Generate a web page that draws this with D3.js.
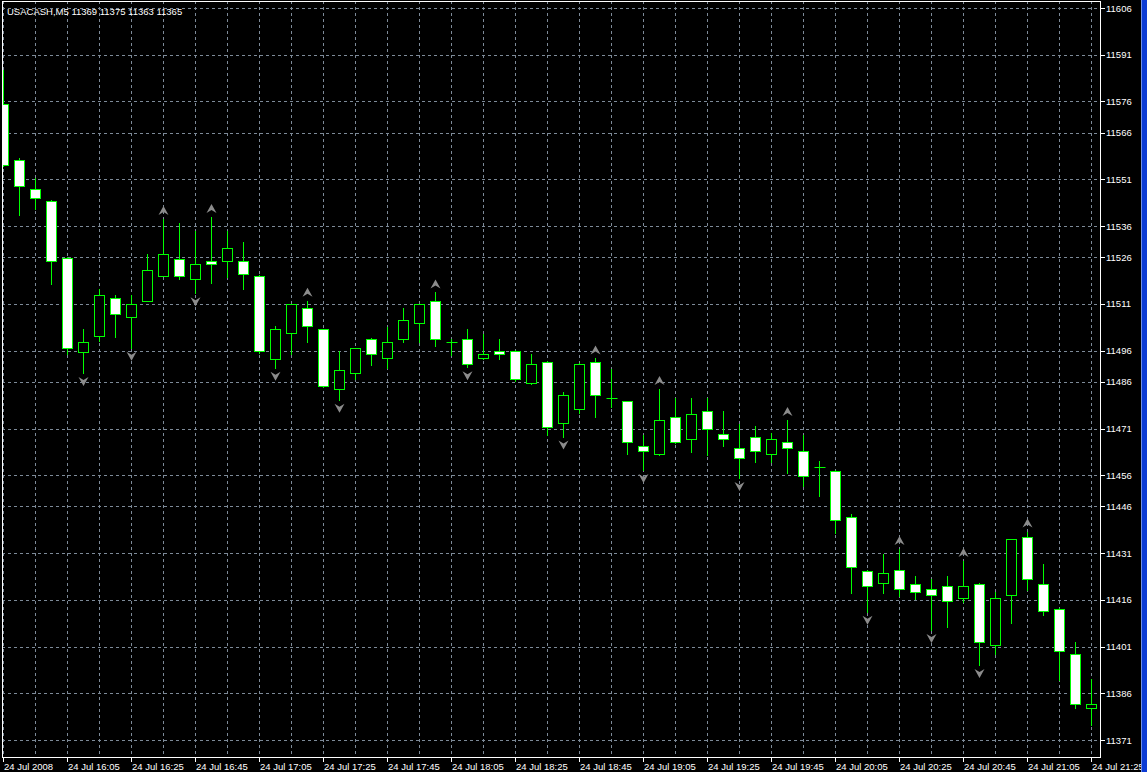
<!DOCTYPE html>
<html>
<head>
<meta charset="utf-8">
<script src="https://cdn.jsdelivr.net/npm/d3@7"></script>
<style>
  html, body { margin: 0; padding: 0; background: #000; }
  svg { display: block; }
  text { font-family: "Liberation Sans", Arial, sans-serif; fill: #fff; }
</style>
</head>
<body>
<div id="chart"></div>
<script>
// USACASH M5 bars, 24 Jul 2008 15:45 .. 21:25
var open = [11575.2, 11557.2, 11547.9, 11544.0, 11525.7, 11495.7, 11500.7, 11512.9, 11506.8, 11511.9,
  11520.0, 11525.5, 11519.0, 11524.8, 11524.8, 11524.7, 11520.0, 11493.4, 11501.7, 11509.6,
  11502.9, 11483.6, 11488.7, 11499.6, 11493.5, 11499.6, 11504.8, 11511.8, 11498.8, 11499.6,
  11493.5, 11495.8, 11495.8, 11485.5, 11492.5, 11472.7, 11477.4, 11492.5, 11480.7, 11479.7,
  11465.5, 11462.7, 11474.6, 11467.5, 11476.5, 11469.3, 11464.7, 11468.4, 11462.7, 11466.6,
  11463.7, 11458.7, 11457.5, 11442.5, 11425.4, 11421.3, 11425.5, 11421.2, 11419.4, 11420.3,
  11416.5, 11421.2, 11401.4, 11417.5, 11436.3, 11421.2, 11413.2, 11398.5, 11381.3];
var high = [11586.1, 11557.8, 11551.4, 11544.5, 11526.0, 11503.0, 11515.8, 11513.9, 11513.9, 11527.0,
  11538.3, 11537.1, 11534.4, 11538.9, 11534.4, 11531.0, 11520.3, 11504.0, 11511.0, 11512.0,
  11503.0, 11495.9, 11497.0, 11500.0, 11503.5, 11509.6, 11511.0, 11514.7, 11499.7, 11503.0,
  11501.3, 11499.7, 11496.2, 11494.9, 11492.7, 11482.7, 11492.0, 11493.5, 11490.0, 11479.8,
  11468.8, 11483.7, 11480.7, 11480.7, 11480.7, 11476.6, 11472.5, 11471.8, 11469.5, 11473.7,
  11468.9, 11460.6, 11457.7, 11443.6, 11425.5, 11430.6, 11432.3, 11423.7, 11422.6, 11423.7,
  11428.5, 11421.4, 11418.6, 11435.5, 11437.9, 11427.5, 11413.5, 11402.4, 11390.5];
var low = [11555.4, 11539.5, 11541.5, 11517.4, 11495.0, 11488.8, 11499.1, 11500.4, 11496.9, 11511.8,
  11520.0, 11519.0, 11514.4, 11517.7, 11519.7, 11515.7, 11495.2, 11490.5, 11494.9, 11498.7,
  11484.4, 11480.2, 11486.8, 11491.4, 11490.3, 11498.7, 11498.7, 11497.6, 11494.6, 11490.7,
  11493.2, 11493.4, 11486.3, 11485.4, 11469.0, 11468.4, 11475.9, 11474.6, 11477.8, 11462.7,
  11457.7, 11462.5, 11466.5, 11463.6, 11462.4, 11465.5, 11455.1, 11460.4, 11460.4, 11456.6,
  11452.5, 11449.4, 11437.4, 11418.3, 11412.2, 11418.3, 11417.3, 11416.4, 11406.3, 11407.4,
  11415.4, 11395.1, 11398.6, 11408.5, 11419.2, 11411.1, 11390.3, 11381.2, 11375.8];
var close = [11555.6, 11548.9, 11545.0, 11524.8, 11496.9, 11498.7, 11513.9, 11507.8, 11511.0, 11521.9,
  11527.0, 11520.0, 11523.8, 11523.8, 11528.9, 11520.7, 11495.9, 11502.9, 11510.9, 11503.8,
  11484.6, 11489.8, 11496.8, 11494.8, 11498.7, 11505.7, 11510.9, 11499.6, 11498.8, 11491.6,
  11494.8, 11494.8, 11486.8, 11491.6, 11471.6, 11481.7, 11491.6, 11481.7, 11480.7, 11466.6,
  11463.8, 11473.7, 11466.6, 11475.6, 11470.8, 11467.5, 11461.4, 11463.7, 11467.5, 11464.7,
  11455.8, 11458.7, 11441.5, 11426.4, 11420.4, 11424.5, 11419.4, 11418.4, 11417.5, 11415.5,
  11420.3, 11402.4, 11416.5, 11435.4, 11422.6, 11412.4, 11399.6, 11382.6, 11382.6];

// bars carrying a fractal mark
var upFractals = [10, 13, 19, 27, 37, 41, 49, 56, 60, 64];
var downFractals = [5, 8, 12, 17, 21, 29, 35, 40, 46, 54, 58, 61];

var priceTicks = [11606, 11591, 11576, 11566, 11551, 11536, 11526, 11511, 11496, 11486,
  11471, 11456, 11446, 11431, 11416, 11401, 11386, 11371];
var timeLabels = ['24 Jul 2008', '24 Jul 16:05', '24 Jul 16:25', '24 Jul 16:45', '24 Jul 17:05',
  '24 Jul 17:25', '24 Jul 17:45', '24 Jul 18:05', '24 Jul 18:25', '24 Jul 18:45', '24 Jul 19:05',
  '24 Jul 19:25', '24 Jul 19:45', '24 Jul 20:05', '24 Jul 20:25', '24 Jul 20:45', '24 Jul 21:05',
  '24 Jul 21:25'];
var title = 'USACASH,M5  11369 11375 11363 11365';

var width = 1147, height = 772;
var plot = {left: 2, top: 1, right: 1100, bottom: 757};
var green = '#00ff00', gridColor = '#7d8a98', fractalColor = '#8c8c8c';

var svg = d3.select('#chart').append('svg')
  .attr('width', width)
  .attr('height', height);

svg.append('rect').attr('width', width).attr('height', height).attr('fill', '#000');

var n = open.length;
var xScale = d3.scaleLinear().domain([0, n - 1]).range([3, 3 + 16 * (n - 1)]);
var yScale = d3.scaleLinear().domain([11371, 11606]).range([740, 8]);

function px(v) { return Math.round(v) + 0.5; }

svg.append('clipPath').attr('id', 'plotClip')
  .append('rect')
  .attr('x', plot.left + 1).attr('y', plot.top + 1)
  .attr('width', plot.right - plot.left - 1).attr('height', plot.bottom - plot.top - 1);

var g = svg.append('g').attr('clip-path', 'url(#plotClip)');

// grid
g.selectAll('.hgrid')
  .data(priceTicks)
  .enter().append('line')
  .attr('class', 'hgrid')
  .attr('x1', plot.left).attr('x2', plot.right)
  .attr('y1', function(d) { return px(yScale(d)); })
  .attr('y2', function(d) { return px(yScale(d)); })
  .attr('stroke', gridColor)
  .attr('stroke-dasharray', '3,3');

var evenBars = d3.range(0, n, 2);
g.selectAll('.vgrid')
  .data(evenBars)
  .enter().append('line')
  .attr('class', 'vgrid')
  .attr('x1', function(d) { return px(xScale(d)); })
  .attr('x2', function(d) { return px(xScale(d)); })
  .attr('y1', plot.top).attr('y2', plot.bottom)
  .attr('stroke', gridColor)
  .attr('stroke-dasharray', '3,3');

// candles
var bars = d3.range(n);
g.selectAll('.wick')
  .data(bars)
  .enter().append('line')
  .attr('class', 'wick')
  .attr('x1', function(i) { return px(xScale(i)); })
  .attr('x2', function(i) { return px(xScale(i)); })
  .attr('y1', function(i) { return Math.round(yScale(high[i])); })
  .attr('y2', function(i) { return Math.round(yScale(low[i])) + 1; })
  .attr('stroke', green);

g.selectAll('.body')
  .data(bars.filter(function(i) { return Math.abs(yScale(open[i]) - yScale(close[i])) >= 1; }))
  .enter().append('rect')
  .attr('class', 'body')
  .attr('x', function(i) { return px(xScale(i)) - 5; })
  .attr('width', 10)
  .attr('y', function(i) { return px(yScale(Math.max(open[i], close[i]))); })
  .attr('height', function(i) {
    return Math.max(1, Math.round(yScale(Math.min(open[i], close[i]))) - Math.round(yScale(Math.max(open[i], close[i]))));
  })
  .attr('fill', function(i) { return close[i] < open[i] ? '#fff' : '#000'; })
  .attr('stroke', green);

// doji bars: a short level line
g.selectAll('.doji')
  .data(bars.filter(function(i) { return Math.abs(yScale(open[i]) - yScale(close[i])) < 1; }))
  .enter().append('line')
  .attr('class', 'doji')
  .attr('x1', function(i) { return px(xScale(i)) - 5; })
  .attr('x2', function(i) { return px(xScale(i)) + 6; })
  .attr('y1', function(i) { return px(yScale(open[i])); })
  .attr('y2', function(i) { return px(yScale(open[i])); })
  .attr('stroke', green);

// fractals
g.selectAll('.fup')
  .data(upFractals)
  .enter().append('path')
  .attr('class', 'fup')
  .attr('transform', function(i) { return 'translate(' + (xScale(i) + 0.5) + ',' + (yScale(high[i]) - 4) + ')'; })
  .attr('d', 'M0,-9 L5,0 L0,-3 L-5,0 Z')
  .attr('fill', fractalColor);

g.selectAll('.fdown')
  .data(downFractals)
  .enter().append('path')
  .attr('class', 'fdown')
  .attr('transform', function(i) { return 'translate(' + (xScale(i) + 0.5) + ',' + (yScale(low[i]) + 4) + ')'; })
  .attr('d', 'M0,9 L5,0 L0,3 L-5,0 Z')
  .attr('fill', fractalColor);

// frame
svg.append('rect')
  .attr('x', plot.left + 0.5).attr('y', plot.top + 0.5)
  .attr('width', plot.right - plot.left).attr('height', plot.bottom - plot.top)
  .attr('fill', 'none')
  .attr('stroke', '#fff');

// price axis
var yAxis = svg.append('g');
yAxis.selectAll('line')
  .data(priceTicks)
  .enter().append('line')
  .attr('x1', plot.right + 1).attr('x2', plot.right + 5)
  .attr('y1', function(d) { return px(yScale(d)); })
  .attr('y2', function(d) { return px(yScale(d)); })
  .attr('stroke', '#fff');
yAxis.selectAll('text')
  .data(priceTicks)
  .enter().append('text')
  .attr('x', plot.right + 6)
  .attr('y', function(d) { return yScale(d) + 3.5; })
  .attr('font-size', '9.5px')
  .text(function(d) { return d; });

// time axis
var timeBars = d3.range(0, n, 4);
var xAxis = svg.append('g');
xAxis.selectAll('line')
  .data(timeBars)
  .enter().append('line')
  .attr('x1', function(i) { return px(xScale(i)); })
  .attr('x2', function(i) { return px(xScale(i)); })
  .attr('y1', plot.bottom + 1).attr('y2', plot.bottom + 5)
  .attr('stroke', '#fff');
xAxis.selectAll('text')
  .data(timeBars)
  .enter().append('text')
  .attr('x', function(i) { return xScale(i) + 1; })
  .attr('y', 770)
  .attr('font-size', '9.5px')
  .text(function(i, k) { return timeLabels[k]; });

// title
svg.append('text')
  .attr('x', 7).attr('y', 15)
  .attr('font-size', '9.5px')
  .text(title);

// window edge
svg.append('rect').attr('x', 1141).attr('y', 0).attr('width', 6).attr('height', height).attr('fill', '#0c3bd4');
svg.append('rect').attr('x', 1141).attr('y', 0).attr('width', 1).attr('height', height).attr('fill', '#6f8fe6');
</script>
</body>
</html>
